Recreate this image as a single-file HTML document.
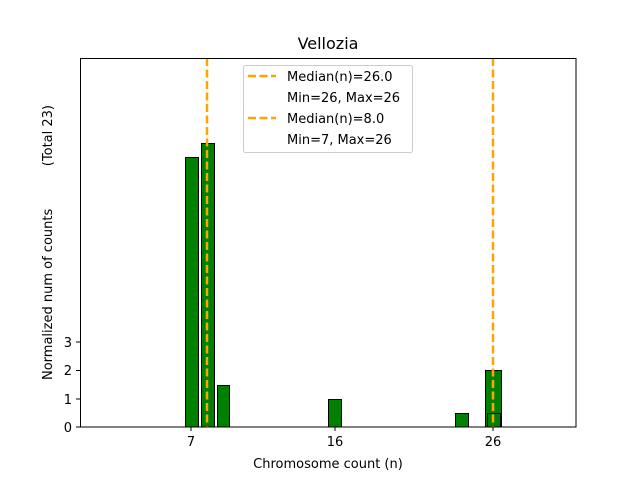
<!DOCTYPE html>
<html><head><style>body{margin:0;background:#fff}</style></head><body>
<svg width="640" height="480" xmlns="http://www.w3.org/2000/svg" font-family="DejaVu Sans, Liberation Sans, sans-serif">
<rect width="640" height="480" fill="#fff"/>
<g fill="#008000" stroke="#000" stroke-width="1">
<rect x="185.5" y="157.5" width="13" height="269.5"/>
<rect x="201.5" y="143.5" width="13" height="283.5"/>
<rect x="217.5" y="385.5" width="12" height="41.5"/>
<rect x="328.5" y="399.5" width="13" height="27.5"/>
<rect x="455.5" y="413.5" width="13" height="13.5"/>
<rect x="485.5" y="370.5" width="16" height="56.5"/>
<rect x="487.5" y="413.5" width="13" height="13.5"/>
</g>
<line x1="80" y1="427" x2="548" y2="427" stroke="#000" stroke-width="1"/>
<g stroke="#ffa500" stroke-width="2.5" stroke-dasharray="8,3.5">
<line x1="207" y1="58" x2="207" y2="427"/>
<line x1="493" y1="58" x2="493" y2="427"/>
</g>
<rect x="80.5" y="58.5" width="495.5" height="368.5" fill="none" stroke="#000" stroke-width="1"/>
<g stroke="#000" stroke-width="1">
<line x1="76" y1="427" x2="80" y2="427"/><line x1="76" y1="399" x2="80" y2="399"/>
<line x1="76" y1="370.5" x2="80" y2="370.5"/><line x1="76" y1="342" x2="80" y2="342"/>
<line x1="191" y1="427" x2="191" y2="431"/><line x1="335" y1="427" x2="335" y2="431"/>
<line x1="493" y1="427" x2="493" y2="431"/>
</g>
<g font-size="13" fill="#000">
<text x="72" y="432" text-anchor="end">0</text>
<text x="72" y="404" text-anchor="end">1</text>
<text x="72" y="375" text-anchor="end">2</text>
<text x="72" y="347" text-anchor="end">3</text>
<text x="191" y="446" text-anchor="middle">7</text>
<text x="335" y="446" text-anchor="middle">16</text>
<text x="493" y="446" text-anchor="middle">26</text>
<text x="328" y="468" text-anchor="middle">Chromosome count (n)</text>
<text transform="translate(52,380) rotate(-90)">Normalized num of counts</text>
<text transform="translate(52,105) rotate(-90)" text-anchor="end">(Total 23)</text>
<text x="328" y="49" text-anchor="middle" font-size="16">Vellozia</text>
</g>
<rect x="243.5" y="65.5" width="169" height="87" rx="2" fill="#fff" fill-opacity="0.8" stroke="#ccc"/>
<g stroke="#ffa500" stroke-width="2.5" stroke-dasharray="8,3.5">
<line x1="248" y1="76" x2="276" y2="76"/>
<line x1="248" y1="118" x2="276" y2="118"/>
</g>
<g font-size="13" fill="#000">
<text x="287" y="81">Median(n)=26.0</text>
<text x="287" y="102">Min=26, Max=26</text>
<text x="287" y="123">Median(n)=8.0</text>
<text x="287" y="144">Min=7, Max=26</text>
</g>
</svg>
</body></html>
